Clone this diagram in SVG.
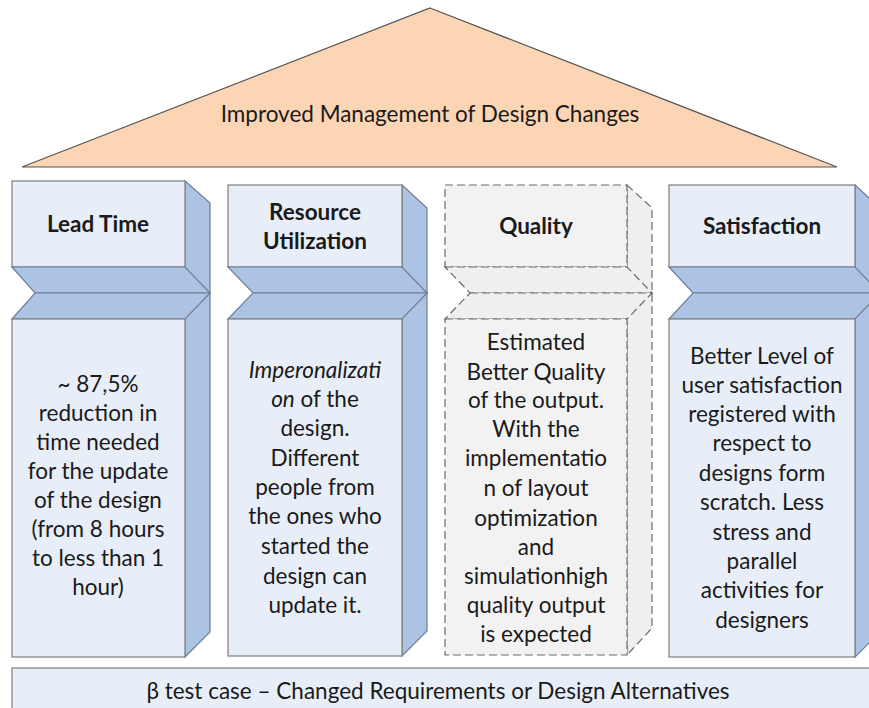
<svg xmlns="http://www.w3.org/2000/svg" width="869" height="708" viewBox="0 0 869 708">
<style>
.front{fill:#e8eef8;stroke:#7f7f7f;stroke-width:1.2}
.side{fill:#adc3e3;stroke:#6f7f95;stroke-width:1.2}
.qf{fill:#f2f2f2;stroke:#6a6a6a;stroke-width:1.2;stroke-dasharray:8 4}
.qs{fill:#efefef;stroke:#6a6a6a;stroke-width:1.2;stroke-dasharray:8 4}
text{font-family:Lato,"Liberation Sans",sans-serif;fill:#1a1a1a;text-anchor:middle}
.t{font-size:22.5px;font-weight:bold}
.b{font-size:22.5px}
</style>
<rect width="869" height="708" fill="#ffffff"/>
<g id="roof">
<polygon points="430,8 837,167 22,167" fill="#fcd5b5" stroke="#555555" stroke-width="1.2"/>
<text class="b" x="430" y="122">Improved Management of Design Changes</text>
</g>
<g id="lead-time">
<polygon class="side" points="185,181 210,203 210,632 185,657"/>
<rect class="front" x="12" y="181" width="173" height="86"/>
<polygon class="side" points="12,267 185,267 210,293 35,293"/>
<polygon class="side" points="35,293 210,293 185,319 12,319"/>
<rect class="front" x="12" y="319" width="173" height="338"/>
<text class="t" x="98" y="232">Lead Time</text>
<text class="b" x="98" y="392">~ 87,5%</text>
<text class="b" x="98" y="421">reduction in</text>
<text class="b" x="98" y="450">time needed</text>
<text class="b" x="98" y="479">for the update</text>
<text class="b" x="98" y="508">of the design</text>
<text class="b" x="98" y="537">(from 8 hours</text>
<text class="b" x="98" y="566">to less than 1</text>
<text class="b" x="98" y="595">hour)</text>
</g>
<g id="resource-utilization">
<polygon class="side" points="402,185 427,208 427,631 402,656"/>
<rect class="front" x="228" y="185" width="174" height="82"/>
<polygon class="side" points="228,267 402,267 427,293 253,293"/>
<polygon class="side" points="253,293 427,293 402,319 228,319"/>
<rect class="front" x="228" y="319" width="174" height="337"/>
<text class="t" x="315" y="220">Resource</text>
<text class="t" x="315" y="249">Utilization</text>
<text class="b" x="315" y="378"><tspan font-style="italic">Imperonalizati</tspan></text>
<text class="b" x="315" y="407"><tspan font-style="italic">on</tspan> of the</text>
<text class="b" x="315" y="436">design.</text>
<text class="b" x="315" y="466">Different</text>
<text class="b" x="315" y="495">people from</text>
<text class="b" x="315" y="524">the ones who</text>
<text class="b" x="315" y="554">started the</text>
<text class="b" x="315" y="584">design can</text>
<text class="b" x="315" y="613">update it.</text>
</g>
<g id="quality">
<polygon class="qs" points="627,185 652,208 652,628 627,655"/>
<rect class="qf" x="445" y="185" width="182" height="82"/>
<polygon class="qs" points="445,267 627,267 652,293 470,293"/>
<polygon class="qs" points="470,293 652,293 627,319 445,319"/>
<rect class="qf" x="445" y="319" width="182" height="336"/>
<text class="t" x="536" y="234">Quality</text>
<text class="b" x="536" y="350">Estimated</text>
<text class="b" x="536" y="380">Better Quality</text>
<text class="b" x="536" y="408">of the output.</text>
<text class="b" x="536" y="437">With the</text>
<text class="b" x="536" y="466">implementatio</text>
<text class="b" x="536" y="496">n of layout</text>
<text class="b" x="536" y="526">optimization</text>
<text class="b" x="536" y="555">and</text>
<text class="b" x="536" y="584">simulationhigh</text>
<text class="b" x="536" y="613">quality output</text>
<text class="b" x="536" y="642">is expected</text>
</g>
<g id="satisfaction">
<polygon class="side" points="855,185 880,208 880,632 855,657"/>
<rect class="front" x="669" y="185" width="186" height="82"/>
<polygon class="side" points="669,267 855,267 880,293 693,293"/>
<polygon class="side" points="693,293 880,293 855,319 669,319"/>
<rect class="front" x="669" y="319" width="186" height="338"/>
<text class="t" x="762" y="234">Satisfaction</text>
<text class="b" x="762" y="364">Better Level of</text>
<text class="b" x="762" y="393">user satisfaction</text>
<text class="b" x="762" y="422">registered with</text>
<text class="b" x="762" y="451">respect to</text>
<text class="b" x="762" y="481">designs form</text>
<text class="b" x="762" y="510">scratch. Less</text>
<text class="b" x="762" y="540">stress and</text>
<text class="b" x="762" y="569">parallel</text>
<text class="b" x="762" y="598">activities for</text>
<text class="b" x="762" y="628">designers</text>
</g>
<g id="base">
<rect x="12" y="668" width="870" height="50" fill="#e8eef8" stroke="#7f7f7f" stroke-width="1.2"/>
<text class="b" x="438" y="699">β test case – Changed Requirements or Design Alternatives</text>
</g>
<g id="connectors"></g>
</svg>
